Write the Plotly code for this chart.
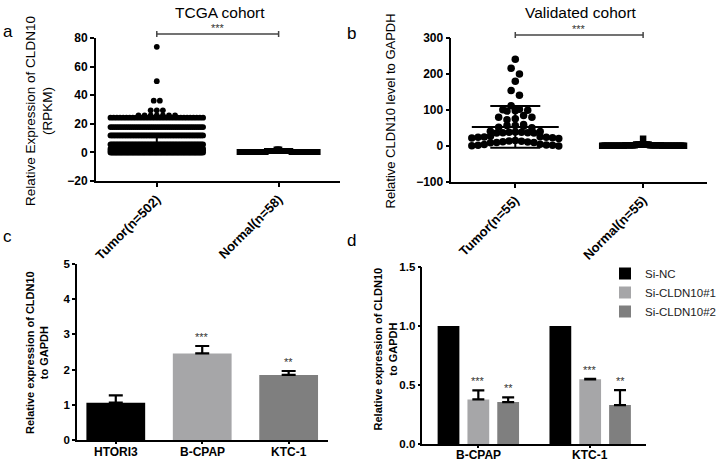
import numpy as np
import plotly.graph_objects as go

W, H = 721, 463
FONT = "Liberation Sans, Arial, sans-serif"

# ---- panel a : TCGA cohort (values read as row levels + point counts)
tcga_groups = ["Tumor(n=502)", "Normal(n=58)"]
tcga_tumor_levels = [0.0, 1.3, 2.6, 5.6, 11.9, 17.7, 24.3, 25.8, 29.4, 36.2, 49.8, 73.8]
tcga_tumor_counts = [110, 100, 80, 64, 59, 45, 30, 7, 3, 2, 1, 1]
tcga_normal_levels = [0.2, 1.0, 2.0]
tcga_normal_counts = [40, 15, 3]
tcga_mean = [5.6, 0.6]
tcga_sd = [6.5, 0.5]

# ---- panel b : validated cohort
val_groups = ["Tumor(n=55)", "Normal(n=55)"]
val_tumor = [241, 216, 200, 180, 154, 141, 112, 102, 101, 99, 98, 97, 85, 80, 80, 76, 73,
             60, 57, 57, 55, 52, 51, 41, 40, 39, 38, 38, 37, 37, 36, 36, 27, 26, 25, 24, 24,
             23, 22, 21, 15, 14, 13, 12, 11, 10, 10, 9, 5, 4, 3, 2, 2, 1, 0]
val_normal_levels = [0.5, 2.0, 4.0, 20.0]
val_normal_counts = [30, 15, 9, 1]
val_mean = [53, 1.6]
val_sd = [58, 3.0]

# ---- panel c : cell lines
cell_lines = ["HTORI3", "B-CPAP", "KTC-1"]
cell_expr = [1.06, 2.46, 1.85]
cell_err = [0.21, 0.21, 0.11]
cell_stars = ["", "***", "**"]
cell_colors = ["#000000", "#a6a6a8", "#7f7f7f"]

# ---- panel d : knockdown
kd_lines = ["B-CPAP", "KTC-1"]
kd_names = ["Si-NC", "Si-CLDN10#1", "Si-CLDN10#2"]
kd_values = [[1.0, 1.0], [0.378, 0.548], [0.355, 0.33]]
kd_errors = [[0, 0], [0.076, 0.005], [0.04, 0.127]]
kd_stars = [["", ""], ["***", "***"], ["**", "**"]]
kd_colors = ["#000000", "#a6a6a8", "#7f7f7f"]


def swarm(values, center, bin_h, step, half_max):
    """spread points sharing a row sideways, GraphPad style"""
    vals = np.asarray(values, float)
    order = np.argsort(vals, kind="stable")
    xs = np.zeros(len(vals))
    rows, cur, start = [], [order[0]], vals[order[0]]
    for idx in order[1:]:
        if vals[idx] - start < bin_h:
            cur.append(idx)
        else:
            rows.append(cur)
            cur, start = [idx], vals[idx]
    rows.append(cur)
    for row in rows:
        n = len(row)
        sp = step if n < 2 else min(step, 2 * half_max / (n - 1))
        pos = (np.arange(n) - (n - 1) / 2) * sp
        pos = pos[np.argsort(np.abs(pos), kind="stable")]
        for i, p in zip(sorted(row, key=lambda k: -vals[k]), pos):
            xs[i] = center + p
    return xs


def dom_x(a, b):
    return [a / W, b / W]


def dom_y(top, bottom):
    return [1 - bottom / H, 1 - top / H]


fig = go.Figure()

# panel a points
ta = np.repeat(tcga_tumor_levels, tcga_tumor_counts)
na = np.repeat(tcga_normal_levels, tcga_normal_counts)
fig.add_trace(go.Scatter(x=swarm(ta, 0, 0.5, 0.05, 0.38), y=ta, mode="markers",
                         marker=dict(symbol="circle", size=5.8, color="black"),
                         xaxis="x", yaxis="y", showlegend=False, hoverinfo="skip"))
fig.add_trace(go.Scatter(x=swarm(na, 1, 2.5, 0.05, 0.32), y=na, mode="markers",
                         marker=dict(symbol="square", size=6, color="black"),
                         xaxis="x", yaxis="y", showlegend=False, hoverinfo="skip"))

# panel b points
tb = np.asarray(val_tumor, float)
nb = np.repeat(val_normal_levels, val_normal_counts)
fig.add_trace(go.Scatter(x=swarm(tb, 0, 19, 0.065, 0.34), y=tb, mode="markers",
                         marker=dict(symbol="circle", size=7.5, color="black"),
                         xaxis="x2", yaxis="y2", showlegend=False, hoverinfo="skip"))
fig.add_trace(go.Scatter(x=swarm(nb, 1, 19, 0.05, 0.32), y=nb, mode="markers",
                         marker=dict(symbol="square", size=6.5, color="black"),
                         xaxis="x2", yaxis="y2", showlegend=False, hoverinfo="skip"))

# mean +- SD for the scatter panels
for xa, ya, means, sds, hw, cap in [("x", "y", tcga_mean, tcga_sd, [0.38, 0.3], 22),
                                    ("x2", "y2", val_mean, val_sd, [0.34, 0.3], 25)]:
    for i, m in enumerate(means):
        fig.add_trace(go.Scatter(x=[i - hw[i], i + hw[i]], y=[m, m], mode="lines",
                                 line=dict(color="black", width=2),
                                 xaxis=xa, yaxis=ya, showlegend=False, hoverinfo="skip"))
    fig.add_trace(go.Scatter(x=[0, 1], y=means, mode="markers",
                             marker=dict(size=1, color="rgba(0,0,0,0)"),
                             error_y=dict(type="data", array=sds, width=cap, thickness=2, color="black"),
                             xaxis=xa, yaxis=ya, showlegend=False, hoverinfo="skip"))

# panel c bars
fig.add_trace(go.Bar(x=cell_lines, y=cell_expr, width=0.68,
                     marker=dict(color=cell_colors, line=dict(width=0)),
                     error_y=dict(type="data", array=cell_err, arrayminus=[0] * 3,
                                  width=7, thickness=2.2, color="black"),
                     xaxis="x3", yaxis="y3", showlegend=False, hoverinfo="skip"))

# panel d grouped bars
for name, vals, errs, col in zip(kd_names, kd_values, kd_errors, kd_colors):
    fig.add_trace(go.Bar(x=kd_lines, y=vals, name=name,
                         marker=dict(color=col, line=dict(width=0)),
                         error_y=dict(type="data", array=errs, arrayminus=[0] * len(errs),
                                      width=6, thickness=2.2, color="black", visible=any(errs)),
                         xaxis="x4", yaxis="y4", hoverinfo="skip"))

axis_style = dict(showgrid=False, zeroline=False, showline=True, linecolor="black",
                  linewidth=1.5, ticks="outside", ticklen=4, tickwidth=1.5,
                  tickcolor="black", automargin=False,
                  tickfont=dict(family=FONT, size=12, color="black", weight="bold"))
rot_font = dict(family=FONT, size=13, color="black", weight="bold")
small_font = dict(family=FONT, size=11.5, color="black", weight="bold")

fig.update_layout(
    width=W, height=H,
    margin=dict(l=0, r=0, t=0, b=0),
    paper_bgcolor="white", plot_bgcolor="white",
    barmode="group", bargap=0.2, bargroupgap=0.27,
    font=dict(family=FONT, color="black"),
    xaxis=dict(axis_style, domain=dom_x(96, 340), anchor="y", range=[-0.5, 1.5],
               tickvals=[0, 1], ticktext=tcga_groups, tickangle=-45, tickfont=rot_font),
    yaxis=dict(axis_style, domain=dom_y(38, 181), anchor="x", range=[-20, 80], dtick=20),
    xaxis2=dict(axis_style, domain=dom_x(452, 708), anchor="y2", range=[-0.5, 1.5],
                tickvals=[0, 1], ticktext=val_groups, tickangle=-45, tickfont=rot_font),
    yaxis2=dict(axis_style, domain=dom_y(38, 182), anchor="x2", range=[-100, 300], dtick=100),
    # category names of c and d are written as annotations just under the axis
    xaxis3=dict(axis_style, domain=dom_x(77, 328), anchor="y3", range=[-0.45, 2.45],
                ticklen=2, showticklabels=False),
    yaxis3=dict(axis_style, domain=dom_y(264, 440), anchor="x3", range=[0, 5], dtick=1,
                ticklen=3, tickfont=small_font),
    xaxis4=dict(axis_style, domain=dom_x(423, 647), anchor="y4", range=[-0.5, 1.5],
                ticklen=2, showticklabels=False),
    yaxis4=dict(axis_style, domain=dom_y(267, 444), anchor="x4", range=[0, 1.5],
                dtick=0.5, tickformat=".1f", ticklen=3, tickfont=small_font),
    legend=dict(x=606 / W, y=1 - 259 / H, xanchor="left", yanchor="top",
                font=dict(family=FONT, size=11.5, color="#222"),
                bgcolor="rgba(0,0,0,0)", itemwidth=30),
)

ann = []


def text(x, y, s, size, **kw):
    ann.append(dict(x=x / W, y=1 - y / H, xref="paper", yref="paper", text=s,
                    showarrow=False, xanchor="center", yanchor="middle",
                    font=dict(family=FONT, size=size, color=kw.pop("color", "black")), **kw))


# panel letters and titles
text(8, 32, "a", 17)
text(352, 34, "b", 17)
text(8, 236, "c", 17)
text(352, 240, "d", 17)
text(220, 12, "TCGA cohort", 15.5)
text(582, 12, "Validated cohort", 15.5)

# y axis titles
text(40, 111, "Relative Expression of CLDN10<br>(RPKM)", 13.5, textangle=-90)
text(392, 111, "Relative CLDN10 level to GAPDH", 13, textangle=-90)
text(37, 352, "<b>Relative expression of CLDN10<br>to GAPDH</b>", 11, textangle=-90)
text(386, 349, "<b>Relative expression of CLDN10<br>to GAPDH</b>", 11, textangle=-90)

# category labels for the bar panels
for xa, ypx, cats in [("x3", 452, cell_lines), ("x4", 455, kd_lines)]:
    for i, c in enumerate(cats):
        ann.append(dict(x=i, y=1 - ypx / H, xref=xa, yref="paper", text="<b>%s</b>" % c,
                        showarrow=False, yanchor="middle",
                        font=dict(family=FONT, size=12, color="black")))

# significance brackets for scatter panels
shapes = []
for xa, ypx in [("x", 34), ("x2", 35)]:
    yb = 1 - ypx / H
    shapes.append(dict(type="line", xref=xa, yref="paper", x0=0, x1=1, y0=yb, y1=yb,
                       line=dict(color="#444", width=1.5)))
    for xe in (0, 1):
        shapes.append(dict(type="line", xref=xa, yref="paper", x0=xe, x1=xe,
                           y0=yb - 3 / H, y1=yb + 3 / H, line=dict(color="#444", width=1.5)))
    ann.append(dict(x=0.5, y=yb, xref=xa, yref="paper", text="***", showarrow=False,
                    yanchor="bottom", yshift=-2, font=dict(family=FONT, size=11, color="#333")))

# stars above bars
for i, s in enumerate(cell_stars):
    if s:
        ann.append(dict(x=i, y=cell_expr[i] + cell_err[i], xref="x3", yref="y3", text=s,
                        showarrow=False, yanchor="bottom", yshift=1,
                        font=dict(family=FONT, size=11, color="#333")))
slot = (1 - 0.2) / len(kd_names)
for t, stars in enumerate(kd_stars):
    for i, s in enumerate(stars):
        if s:
            ann.append(dict(x=i + (t - 1) * slot, y=kd_values[t][i] + kd_errors[t][i],
                            xref="x4", yref="y4", text=s, showarrow=False,
                            yanchor="bottom", yshift=1,
                            font=dict(family=FONT, size=11, color="#333")))

fig.update_layout(annotations=ann, shapes=shapes)
# page body has an 8px default margin; drop it so the figure sits at the window corner
fig.write_html("out.html", config={"displayModeBar": False},
               post_script="document.body.style.margin='0';")
